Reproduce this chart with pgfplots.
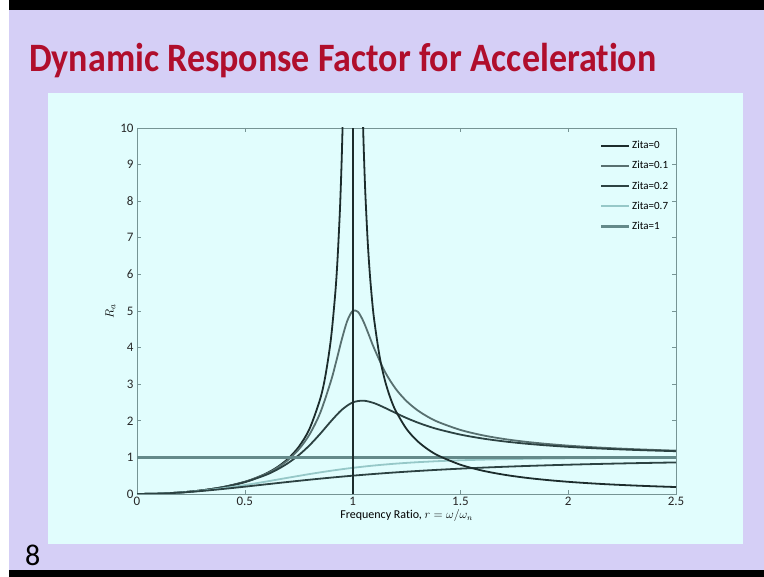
\documentclass[border=0pt]{standalone}
\usepackage{pgfplots}
\pgfplotsset{compat=1.18}
\usepackage{fontspec}
\setmainfont{Carlito}[Ligatures=NoCommon]

\definecolor{slideBg}{RGB}{213,207,246}
\definecolor{panelBg}{RGB}{225,253,253}
\definecolor{titleRed}{RGB}{176,14,44}
\definecolor{axGray}{RGB}{118,148,148}
\definecolor{zA}{RGB}{28,44,44}
\definecolor{zB}{RGB}{88,112,112}
\definecolor{zC}{RGB}{44,66,66}
\definecolor{zD}{RGB}{150,200,200}
\definecolor{zE}{RGB}{100,138,138}

\begin{document}
\begin{tikzpicture}
% slide background, panel, bars
\fill[white] (0pt,0pt) rectangle (764pt,577pt);
\fill[slideBg] (9pt,0pt) rectangle (764pt,577pt);
\fill[black] (9pt,567pt) rectangle (764pt,577pt);
\fill[black] (9pt,0pt) rectangle (764pt,7pt);
\fill[panelBg] (48pt,33pt) rectangle (743pt,484pt);
\node[anchor=base west, inner sep=0pt, text=titleRed, yscale=1.12,
      font=\fontsize{36}{40}\selectfont\bfseries] at (29pt,505pt)
  {Dynamic Response Factor for Acceleration};
\node[anchor=base west, inner sep=0pt, font=\fontsize{30}{32}\selectfont]
  at (25pt,11pt) {8};

\begin{axis}[
  at={(137pt,83pt)}, anchor=south west,
  scale only axis, width=539pt, height=366pt,
  xmin=0, xmax=2.5, ymin=0, ymax=10,
  xtick={0,0.5,1,1.5,2,2.5},
  ytick={0,1,2,3,4,5,6,7,8,9,10},
  tick align=inside, major tick length=4pt,
  axis line style={draw=axGray, line width=0.9pt},
  tick style={draw=axGray, line width=0.6pt},
  tick label style={font=\fontsize{13}{14}\selectfont, text=black!85},
  /pgf/number format/assume math mode=true,
  xlabel={Frequency Ratio, $r = \omega/\omega_n$},
  ylabel={$R_a$},
  xlabel style={font=\fontsize{12}{13}\selectfont, yshift=3pt},
  ylabel style={font=\fontsize{13}{14}\selectfont, yshift=-2pt},
  legend style={at={(0.995,0.975)}, anchor=north east, draw=none,
                fill=none, font=\fontsize{11}{12}\selectfont,
                row sep=7pt},
  legend cell align=left,
  legend image post style={xscale=1.6},
  every axis plot/.append style={line join=round},
]
%% zeta = 0, left branch r^2/(1-r^2)
\addplot[zA, line width=1.8pt, smooth] coordinates {
 (0,0) (0.1,0.0101) (0.2,0.0417) (0.3,0.0989) (0.4,0.1905) (0.5,0.3333)
 (0.55,0.4337) (0.6,0.5625) (0.65,0.7316) (0.7,0.9608) (0.75,1.2857)
 (0.8,1.7778) (0.85,2.6036) (0.875,3.2667) (0.9,4.2632) (0.92,5.5104)
 (0.93,6.402) (0.94,7.591) (0.945,8.348) (0.95,9.2564) (0.955,10.367)};
\addlegendentry{Zita=0}
%% zeta = 0.1
\addplot[zB, line width=1.8pt, smooth] coordinates {
 (0,0) (0.1,0.0101) (0.2,0.0416) (0.3,0.0987) (0.4,0.1896) (0.5,0.3304)
 (0.6,0.5529) (0.65,0.7137) (0.7,0.9265) (0.75,1.2162) (0.8,1.6246)
 (0.85,2.2201) (0.9,3.0948) (0.925,3.646) (0.95,4.2260) (0.975,4.7259)
 (1.0,5.0) (1.025,4.9755) (1.05,4.7180) (1.075,4.3541) (1.1,3.9785)
 (1.15,3.3386) (1.2,2.8731) (1.25,2.5383) (1.3,2.2920) (1.35,2.1053)
 (1.4,1.96) (1.5,1.7503) (1.6,1.6076) (1.7,1.5049) (1.8,1.4281)
 (1.9,1.3687) (2.0,1.3216) (2.1,1.2835) (2.2,1.2522) (2.3,1.2261)
 (2.4,1.2040) (2.5,1.1851)};
\addlegendentry{Zita=0.1}
%% zeta = 0.2
\addplot[zC, line width=1.8pt, smooth] coordinates {
 (0,0) (0.1,0.0101) (0.2,0.0415) (0.3,0.0981) (0.4,0.1871) (0.5,0.3221)
 (0.6,0.5267) (0.65,0.6671) (0.7,0.8422) (0.75,1.0604) (0.8,1.3287)
 (0.85,1.6463) (0.9,1.9899) (0.95,2.3005) (1.0,2.5) (1.05,2.5501)
 (1.1,2.4818) (1.15,2.3541) (1.2,2.2115) (1.25,2.0761) (1.3,1.9560)
 (1.35,1.8523) (1.4,1.7636) (1.5,1.6227) (1.6,1.5182) (1.7,1.4388)
 (1.8,1.3770) (1.9,1.3280) (2.0,1.2883) (2.1,1.2557) (2.2,1.2286)
 (2.3,1.2057) (2.4,1.1862) (2.5,1.1695)};
\addlegendentry{Zita=0.2}
%% zeta = 0.7
\addplot[zD, line width=1.8pt, smooth] coordinates {
 (0,0) (0.1,0.0100) (0.2,0.0400) (0.3,0.0898) (0.4,0.1585) (0.5,0.2437)
 (0.6,0.3409) (0.7,0.4435) (0.8,0.5440) (0.9,0.6357) (1.0,0.7143)
 (1.1,0.7785) (1.2,0.8292) (1.3,0.8683) (1.4,0.8981) (1.5,0.9207)
 (1.6,0.9378) (1.7,0.9509) (1.8,0.9610) (1.9,0.9687) (2.0,0.9747)
 (2.1,0.9795) (2.2,0.9832) (2.3,0.9862) (2.4,0.9886) (2.5,0.9905)};
\addlegendentry{Zita=0.7}
%% unit reference line
\addplot[zE, line width=2.8pt] coordinates {(0,1) (2.5,1)};
\addlegendentry{Zita=1}
%% zeta = 1
\addplot[zC, line width=1.8pt, smooth, forget plot] coordinates {
 (0,0) (0.1,0.0099) (0.2,0.0385) (0.3,0.0826) (0.4,0.1379) (0.5,0.2)
 (0.6,0.2647) (0.7,0.3289) (0.8,0.3902) (0.9,0.4475) (1.0,0.5)
 (1.1,0.5475) (1.2,0.5902) (1.3,0.6282) (1.4,0.6622) (1.5,0.6923)
 (1.6,0.7191) (1.7,0.7429) (1.8,0.7642) (1.9,0.7831) (2.0,0.8)
 (2.1,0.8151) (2.2,0.8288) (2.3,0.8410) (2.4,0.8521) (2.5,0.8621)};
%% zeta = 0, right branch
\addplot[zA, line width=1.8pt, smooth, forget plot] coordinates {
 (1.045,10.867) (1.05,9.756) (1.055,8.848) (1.06,8.091) (1.07,6.901)
 (1.08,6.010) (1.09,5.316) (1.1,4.762) (1.125,3.765) (1.15,3.101)
 (1.175,2.627) (1.2,2.273) (1.25,1.778) (1.3,1.449) (1.35,1.216)
 (1.4,1.042) (1.5,0.8) (1.6,0.641) (1.7,0.529) (1.8,0.446) (1.9,0.383)
 (2.0,0.333) (2.1,0.293) (2.2,0.260) (2.3,0.233) (2.4,0.210) (2.5,0.190)};
%% resonance line
\addplot[zA, line width=1.8pt, forget plot] coordinates {(1,0) (1,10)};
\end{axis}
\end{tikzpicture}
\end{document}
